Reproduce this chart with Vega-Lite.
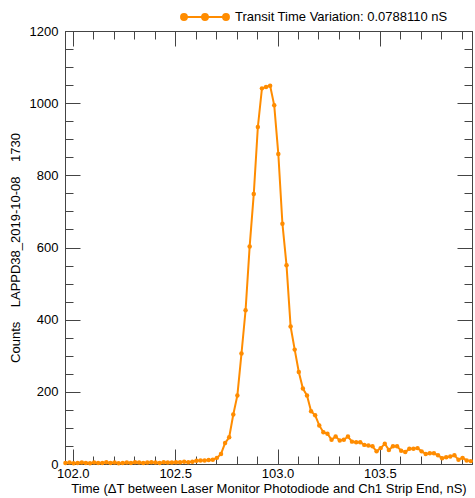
{
  "$schema": "https://vega.github.io/schema/vega-lite/v6.json",
  "width": 407,
  "height": 433,
  "autosize": {"type": "none"},
  "padding": {"left": 65, "top": 31, "right": 3, "bottom": 34},
  "config": {
    "font": "Liberation Sans",
    "view": {"stroke": "#444", "strokeWidth": 1},
    "axis": {
      "grid": false,
      "domainColor": "#444",
      "tickColor": "#444",
      "tickWidth": 1,
      "labelColor": "#000",
      "titleColor": "#000",
      "labelFontSize": 13,
      "titleFontSize": 13,
      "titleFontWeight": "normal",
      "labelFont": "Liberation Sans",
      "titleFont": "Liberation Sans"
    },
    "legend": {"padding": 0}
  },
  "data": {
    "values": [
      {"t": 101.964, "c": 3}, {"t": 101.984, "c": 4}, {"t": 102.004, "c": 2}, {"t": 102.024, "c": 3},
      {"t": 102.044, "c": 4}, {"t": 102.064, "c": 3}, {"t": 102.084, "c": 2}, {"t": 102.104, "c": 4},
      {"t": 102.124, "c": 3}, {"t": 102.144, "c": 3}, {"t": 102.164, "c": 5}, {"t": 102.184, "c": 3},
      {"t": 102.204, "c": 4}, {"t": 102.224, "c": 2}, {"t": 102.244, "c": 3}, {"t": 102.264, "c": 4},
      {"t": 102.284, "c": 3}, {"t": 102.304, "c": 5}, {"t": 102.324, "c": 4}, {"t": 102.344, "c": 3},
      {"t": 102.364, "c": 4}, {"t": 102.384, "c": 5}, {"t": 102.404, "c": 4}, {"t": 102.424, "c": 3},
      {"t": 102.444, "c": 5}, {"t": 102.464, "c": 4}, {"t": 102.484, "c": 4}, {"t": 102.504, "c": 5},
      {"t": 102.524, "c": 5}, {"t": 102.544, "c": 6}, {"t": 102.564, "c": 5}, {"t": 102.584, "c": 6},
      {"t": 102.604, "c": 9}, {"t": 102.624, "c": 10}, {"t": 102.644, "c": 10}, {"t": 102.664, "c": 11},
      {"t": 102.684, "c": 12}, {"t": 102.704, "c": 17}, {"t": 102.724, "c": 28}, {"t": 102.744, "c": 58},
      {"t": 102.764, "c": 74}, {"t": 102.784, "c": 137}, {"t": 102.804, "c": 190}, {"t": 102.824, "c": 306},
      {"t": 102.844, "c": 426}, {"t": 102.864, "c": 603}, {"t": 102.884, "c": 748}, {"t": 102.904, "c": 934},
      {"t": 102.924, "c": 1041}, {"t": 102.944, "c": 1045}, {"t": 102.964, "c": 1048}, {"t": 102.984, "c": 994},
      {"t": 103.004, "c": 859}, {"t": 103.024, "c": 666}, {"t": 103.044, "c": 551}, {"t": 103.064, "c": 381},
      {"t": 103.084, "c": 317}, {"t": 103.104, "c": 255}, {"t": 103.124, "c": 209}, {"t": 103.144, "c": 190},
      {"t": 103.164, "c": 146}, {"t": 103.184, "c": 135}, {"t": 103.204, "c": 107}, {"t": 103.224, "c": 88},
      {"t": 103.244, "c": 84}, {"t": 103.264, "c": 67}, {"t": 103.284, "c": 76}, {"t": 103.304, "c": 65},
      {"t": 103.324, "c": 67}, {"t": 103.344, "c": 76}, {"t": 103.364, "c": 62}, {"t": 103.384, "c": 60},
      {"t": 103.404, "c": 60}, {"t": 103.424, "c": 53}, {"t": 103.444, "c": 51}, {"t": 103.464, "c": 49},
      {"t": 103.484, "c": 35}, {"t": 103.504, "c": 44}, {"t": 103.524, "c": 56}, {"t": 103.544, "c": 39},
      {"t": 103.564, "c": 49}, {"t": 103.584, "c": 49}, {"t": 103.604, "c": 37}, {"t": 103.624, "c": 33},
      {"t": 103.644, "c": 42}, {"t": 103.664, "c": 42}, {"t": 103.684, "c": 44}, {"t": 103.704, "c": 35},
      {"t": 103.724, "c": 28}, {"t": 103.744, "c": 30}, {"t": 103.764, "c": 30}, {"t": 103.784, "c": 24},
      {"t": 103.804, "c": 16}, {"t": 103.824, "c": 19}, {"t": 103.844, "c": 21}, {"t": 103.864, "c": 24},
      {"t": 103.884, "c": 12}, {"t": 103.904, "c": 17}, {"t": 103.924, "c": 10}, {"t": 103.944, "c": 8}
    ]
  },
  "layer": [
    {
      "mark": {"type": "line", "strokeWidth": 2},
      "encoding": {
        "x": {
          "field": "t", "type": "quantitative",
          "scale": {"domain": [101.962, 103.95], "nice": false, "zero": false},
          "axis": {
            "orient": "bottom",
            "title": "Time (ΔT between Laser Monitor Photodiode and Ch1 Strip End, nS)",
            "values": [102.0, 102.1, 102.2, 102.3, 102.4, 102.5, 102.6, 102.7, 102.8, 102.9, 103.0, 103.1, 103.2, 103.3, 103.4, 103.5, 103.6, 103.7, 103.8, 103.9],
            "labelExpr": "abs(datum.value*2 - round(datum.value*2)) < 0.001 ? format(datum.value, '.1f') : ''",
            "tickSize": {"condition": {"test": "abs(datum.value*2 - round(datum.value*2)) < 0.001", "value": -15}, "value": -8},
            "labelPadding": 18,
            "labelFlush": false,
            "labelOverlap": false,
            "titlePadding": -5
          }
        },
        "y": {
          "field": "c", "type": "quantitative",
          "scale": {"domain": [0, 1200], "nice": false},
          "axis": {
            "orient": "left",
            "title": "Counts\u00a0\u00a0\u00a0\u00a0LAPPD38_2019-10-08\u00a0\u00a0\u00a0\u00a01730",
            "values": [0, 50, 100, 150, 200, 250, 300, 350, 400, 450, 500, 550, 600, 650, 700, 750, 800, 850, 900, 950, 1000, 1050, 1100, 1150, 1200],
            "labelExpr": "datum.value % 200 == 0 ? format(datum.value, 'd') : ''",
            "tickSize": {"condition": {"test": "datum.value % 200 == 0", "value": -15}, "value": -8},
            "labelPadding": 22,
            "labelFlush": false,
            "labelOverlap": false,
            "titlePadding": 7
          }
        },
        "color": {
          "datum": "Transit Time Variation: 0.0788110 nS",
          "scale": {"range": ["#ff8c00"]},
          "legend": {
            "orient": "none",
            "legendX": 118,
            "legendY": -36,
            "title": null,
            "symbolType": "M-1,0L1,0M-1.14,0A0.14,0.14,0,1,1,-0.86,0A0.14,0.14,0,1,1,-1.14,0M-0.14,0A0.14,0.14,0,1,1,0.14,0A0.14,0.14,0,1,1,-0.14,0M0.86,0A0.14,0.14,0,1,1,1.14,0A0.14,0.14,0,1,1,0.86,0",
            "symbolSize": 1764,
            "symbolStrokeWidth": 2,
            "symbolFillColor": "#ff8c00",
            "symbolStrokeColor": "#ff8c00",
            "symbolOpacity": 1,
            "labelFontSize": 13,
            "labelFont": "Liberation Sans",
            "labelColor": "#000",
            "labelLimit": 400,
            "labelOffset": 8
          }
        }
      }
    },
    {
      "mark": {"type": "point", "filled": true, "size": 20, "color": "#ff8c00", "opacity": 1},
      "encoding": {
        "x": {
          "field": "t", "type": "quantitative",
          "axis": {
            "orient": "top",
            "title": null,
            "labels": false,
            "values": [102.0, 102.1, 102.2, 102.3, 102.4, 102.5, 102.6, 102.7, 102.8, 102.9, 103.0, 103.1, 103.2, 103.3, 103.4, 103.5, 103.6, 103.7, 103.8, 103.9],
            "tickSize": {"condition": {"test": "abs(datum.value*2 - round(datum.value*2)) < 0.001", "value": -15}, "value": -8}
          }
        },
        "y": {
          "field": "c", "type": "quantitative",
          "axis": {
            "orient": "right",
            "title": null,
            "labels": false,
            "values": [0, 50, 100, 150, 200, 250, 300, 350, 400, 450, 500, 550, 600, 650, 700, 750, 800, 850, 900, 950, 1000, 1050, 1100, 1150, 1200],
            "tickSize": {"condition": {"test": "datum.value % 200 == 0", "value": -15}, "value": -8}
          }
        }
      }
    }
  ],
  "resolve": {"axis": {"x": "independent", "y": "independent"}}
}
